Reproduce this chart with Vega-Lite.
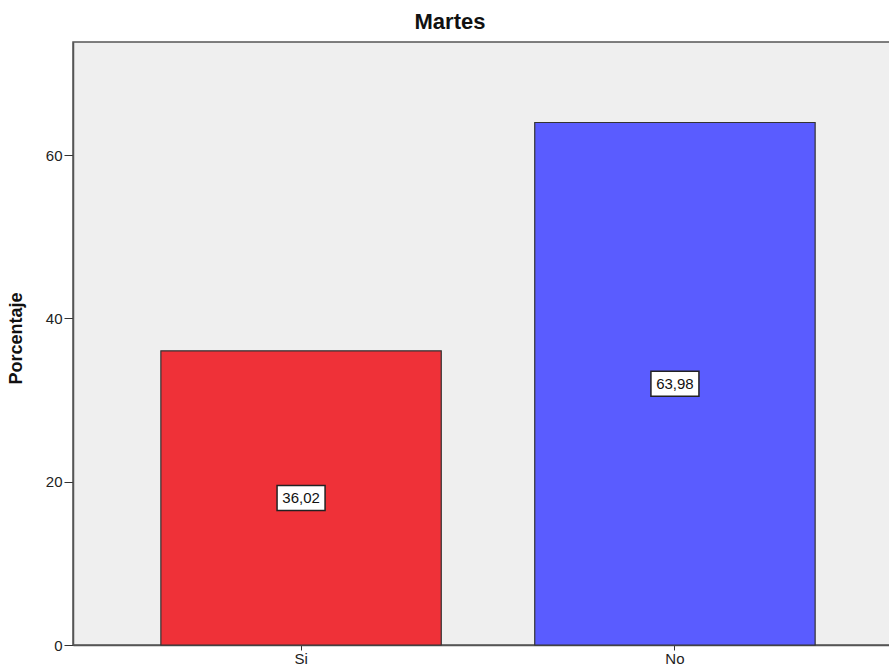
{
  "$schema": "https://vega.github.io/schema/vega-lite/v6.json",
  "autosize": "none",
  "padding": {"left": 73, "top": 42, "right": 0, "bottom": 26},
  "width": 830,
  "height": 603,
  "background": "white",
  "config": {
    "font": "Liberation Sans",
    "view": {"fill": "#efefef", "stroke": "#555555", "strokeWidth": 1.5}
  },
  "title": {
    "text": "Martes",
    "fontSize": 22,
    "fontWeight": "bold",
    "color": "#111111",
    "anchor": "middle",
    "dx": -38,
    "offset": 8
  },
  "data": {
    "values": [
      {"categoria": "Si", "porcentaje": 36.02, "etiqueta": "36,02"},
      {"categoria": "No", "porcentaje": 63.98, "etiqueta": "63,98"}
    ]
  },
  "encoding": {
    "x": {
      "field": "categoria",
      "type": "nominal",
      "sort": ["Si", "No"],
      "scale": {"paddingInner": 0.25, "paddingOuter": 0.235},
      "axis": {
        "title": null,
        "labelAngle": 0,
        "labelFontSize": 15,
        "labelColor": "#222222",
        "labelPadding": 1,
        "tickSize": 5,
        "tickColor": "#333333",
        "domainColor": "#555555",
        "domainWidth": 1.5
      }
    }
  },
  "layer": [
    {
      "mark": {"type": "bar", "stroke": "#333333", "strokeWidth": 1.2},
      "encoding": {
        "y": {
          "field": "porcentaje",
          "type": "quantitative",
          "scale": {"domain": [0, 73.84], "nice": false},
          "axis": {
            "title": "Porcentaje",
            "titleFontSize": 18,
            "titleFontWeight": "bold",
            "titleColor": "#111111",
            "titleX": -48,
            "titleY": 296,
            "values": [0, 20, 40, 60],
            "labelFontSize": 15,
            "labelColor": "#222222",
            "labelPadding": 2,
            "tickSize": 9,
            "tickColor": "#333333",
            "domainColor": "#555555",
            "domainWidth": 1.5,
            "grid": false
          }
        },
        "color": {
          "field": "categoria",
          "type": "nominal",
          "scale": {"domain": ["Si", "No"], "range": ["#ef3138", "#5a5cff"]},
          "legend": null
        }
      }
    },
    {
      "transform": [{"calculate": "datum.porcentaje / 2", "as": "medio"}],
      "mark": {
        "type": "point",
        "shape": "M -1 -0.52 L 1 -0.52 L 1 0.52 L -1 0.52 Z",
        "size": 2304,
        "filled": true,
        "fill": "white",
        "stroke": "#222222",
        "strokeWidth": 1.5,
        "opacity": 1
      },
      "encoding": {
        "y": {"field": "medio", "type": "quantitative"}
      }
    },
    {
      "transform": [{"calculate": "datum.porcentaje / 2", "as": "medio"}],
      "mark": {"type": "text", "fontSize": 15, "color": "#111111", "baseline": "middle", "align": "center"},
      "encoding": {
        "y": {"field": "medio", "type": "quantitative"},
        "text": {"field": "etiqueta"}
      }
    }
  ]
}
